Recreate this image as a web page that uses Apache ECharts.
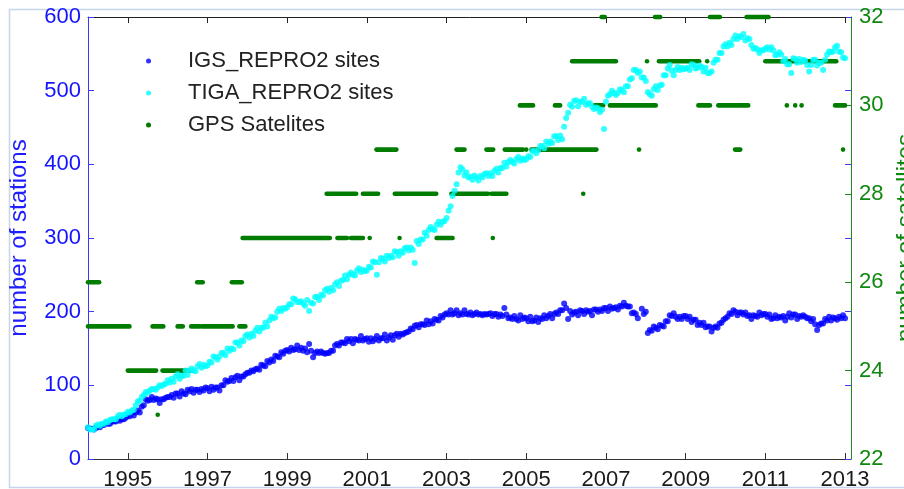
<!DOCTYPE html>
<html>
<head>
<meta charset="utf-8">
<script src="https://cdn.jsdelivr.net/npm/echarts@6/dist/echarts.min.js"></script>
<style>
  html, body { margin: 0; padding: 0; background: #ffffff; }
  #chart { width: 904px; height: 489px; }
</style>
</head>
<body>
<div id="chart"></div>
<script>
// Station counts sampled every 0.05 year starting at 1994.0 (one row per year)
const sampleStart = 1994.0;
const sampleStep = 0.05;

const igsSites = [
  42, 41, 41, 40, 42, 44, 43, 46, 46, 49, 48, 48, 51, 51, 51, 54, 52, 54, 54, 56,
  59, 58, 63, 59, 63, 66, 63, 71, 73, 81, 79, 80, 84, 80, 82, 81, 76, 81, 81, 83,
  84, 84, 87, 83, 89, 89, 85, 92, 89, 88, 94, 92, 95, 90, 94, 94, 91, 95, 93, 97,
  96, 92, 98, 94, 97, 97, 93, 100, 100, 107, 105, 106, 110, 106, 111, 113, 107, 112, 112, 115,
  117, 117, 120, 119, 122, 123, 121, 128, 127, 126, 133, 131, 135, 133, 140, 139, 138, 145, 143, 147,
  148, 146, 151, 148, 149, 154, 148, 151, 147, 150, 145, 156, 147, 138, 144, 146, 144, 146, 144, 143,
  144, 144, 147, 147, 154, 156, 154, 158, 158, 157, 163, 160, 163, 157, 163, 162, 161, 167, 161, 163,
  164, 159, 164, 160, 163, 167, 161, 164, 164, 169, 161, 165, 168, 162, 168, 170, 166, 170, 169, 171,
  172, 173, 177, 176, 181, 182, 179, 183, 183, 182, 188, 183, 187, 184, 190, 189, 188, 194, 192, 196,
  198, 196, 202, 196, 198, 202, 195, 198, 196, 202, 197, 196, 199, 195, 197, 199, 196, 197, 195, 197,
  196, 197, 198, 194, 197, 197, 193, 196, 194, 205, 196, 191, 192, 190, 194, 190, 188, 195, 190, 192,
  191, 187, 193, 187, 188, 192, 186, 191, 190, 195, 191, 194, 197, 191, 197, 199, 197, 202, 202, 211,
  205, 190, 201, 196, 199, 200, 195, 202, 201, 197, 202, 200, 201, 195, 203, 203, 200, 203, 201, 205,
  205, 201, 207, 204, 205, 206, 203, 208, 207, 212, 208, 207, 207, 198, 199, 197, 191, null, 204, 197,
  200, 171, 175, 174, 180, 178, 176, 182, 181, 180, 187, 187, 195, 194, 198, 193, 190, 193, 190, 194,
  194, 190, 193, 186, 189, 189, 182, 185, 182, 185, 179, 180, 180, 173, 178, 180, 178, 184, 185, 189,
  191, 193, 198, 197, 202, 200, 195, 199, 199, 196, 199, 194, 195, 190, 195, 194, 193, 199, 195, 197,
  197, 193, 196, 190, 191, 195, 191, 193, 192, 194, 188, 193, 198, 192, 196, 196, 190, 194, 193, 195,
  193, 191, 191, 187, 190, 183, 175, 182, 184, 184, 190, 188, 193, 188, 192, 191, 189, 193, 191, 195,
  191
];

const tigaSites = [
  43, 40, 40, 40, 45, 47, 45, 48, 48, 51, 50, 53, 54, 54, 54, 58, 60, 58, 60, 61,
  64, 63, 66, 67, 73, 78, 79, 84, 87, 91, 90, 93, 95, 95, 94, 97, 100, 99, 101, 102,
  107, 104, 109, 105, 112, 115, 109, 113, 113, 120, 114, 120, 123, 120, 119, 126, 129, 124, 128, 126,
  127, 132, 131, 139, 138, 135, 139, 144, 144, 141, 150, 147, 150, 149, 158, 158, 154, 161, 160, 167,
  169, 165, 170, 167, 174, 178, 173, 178, 178, 185, 180, 188, 193, 191, 192, 200, 204, 201, 205, 204,
  206, 210, 210, 218, 217, 213, 213, 214, 211, 208, 216, 201, 212, 211, 220, 220, 216, 223, 222, 229,
  231, 227, 232, 229, 237, 240, 235, 242, 243, 249, 244, 250, 253, 250, 249, 256, 259, 254, 257, 255,
  256, 261, 260, 268, 267, 250, 267, 273, 272, 268, 276, 273, 276, 274, 282, 281, 276, 282, 280, 286,
  287, 283, 287, 284, 266, 296, 292, 298, 298, 307, 303, 311, 315, 312, 311, 318, 322, 318, 322, 323,
  327, 337, 343, 357, 364, 373, 389, 396, 393, 385, 389, 382, 383, 379, 385, 382, 378, 384, 382, 387,
  388, 384, 388, 384, 391, 394, 389, 395, 395, 402, 397, 403, 406, 403, 401, 407, 410, 405, 408, 406,
  407, 411, 410, 418, 418, 415, 419, 425, 425, 422, 431, 428, 431, 429, 438, 438, 433, 439, 434, 451,
  463, 470, 481, 478, 486, 487, 479, 485, 485, 489, 481, 483, 483, 478, 475, 477, 476, 471, 474, 448,
  485, 493, 495, 500, 497, 494, 497, 502, 501, 498, 506, 506, 515, 517, 528, 528, 524, 526, 518, 518,
  513, 498, 495, 493, 502, 506, 501, 507, 508, 521, 521, 530, 535, 527, 521, 528, 532, 528, 531, 529,
  530, 531, 528, 536, 535, 530, 531, 534, 532, 526, 531, 524, 524, 526, 538, 542, 542, 551, 551, 560,
  563, 560, 565, 562, 570, 575, 570, 574, 573, 577, 568, 571, 570, 562, 557, 558, 556, 551, 555, 555,
  557, 559, 556, 559, 555, 548, 549, 552, 549, 540, 543, 536, 536, 524, 544, 543, 538, 543, 539, 542,
  541, 535, 526, 535, 542, 542, 534, 538, 538, 528, 542, 549, 553, 552, 553, 559, 561, 553, 552, 545,
  544
];

// GPS satellite counts: runs of days with the same count [fromYear, toYear, satellites]
const gpsRuns = [
  [1994.00, 1994.28, 26], [1996.74, 1996.88, 26], [1997.61, 1997.86, 26],
  [1994.00, 1995.04, 25], [1995.62, 1995.89, 25], [1996.25, 1996.38, 25],
  [1996.59, 1996.80, 25], [1996.86, 1997.63, 25], [1997.80, 1997.95, 25],
  [1995.00, 1995.71, 24], [1995.87, 1996.61, 24],
  [1995.75, 1995.75, 23],
  [1997.88, 2000.07, 27], [2000.26, 2000.50, 27], [2000.60, 2000.90, 27],
  [2001.07, 2001.07, 27], [2001.82, 2001.82, 27], [2002.75, 2003.15, 27],
  [2004.16, 2004.16, 27],
  [1999.99, 2000.32, 28], [2000.36, 2000.52, 28], [2000.56, 2000.73, 28],
  [2000.90, 2001.28, 28], [2001.70, 2002.74, 28], [2003.12, 2004.04, 28],
  [2004.13, 2004.50, 28], [2006.43, 2006.43, 28],
  [2001.24, 2001.74, 29], [2003.25, 2003.45, 29], [2004.00, 2004.17, 29],
  [2004.46, 2004.92, 29], [2005.00, 2005.00, 29], [2005.13, 2006.76, 29],
  [2007.83, 2007.83, 29], [2010.24, 2010.37, 29], [2012.95, 2012.95, 29],
  [2004.84, 2005.17, 30], [2005.72, 2005.85, 30], [2006.72, 2006.93, 30],
  [2007.10, 2008.25, 30], [2009.32, 2009.61, 30], [2009.82, 2010.57, 30],
  [2011.54, 2011.54, 30], [2011.75, 2011.75, 30], [2011.91, 2011.91, 30],
  [2012.75, 2013.00, 30],
  [2006.15, 2007.25, 31], [2008.03, 2008.03, 31], [2008.33, 2009.34, 31],
  [2009.54, 2009.54, 31], [2011.00, 2012.78, 31],
  [2006.89, 2006.97, 32], [2008.23, 2008.36, 32], [2009.61, 2009.86, 32],
  [2010.53, 2011.08, 32]
];

const yearTicks = [1995, 1997, 1999, 2001, 2003, 2005, 2007, 2009, 2011, 2013];
const seriesNames = ['IGS_REPRO2 sites', 'TIGA_REPRO2 sites', 'GPS Satelites'];

const FONT = "'Liberation Sans', Arial, Helvetica, sans-serif";
const BLUE = '#0000ff';
const CYAN = '#00ffff';
const GREEN = '#007c00';
const AXIS_BLUE = '#3a3aff';
const AXIS_GREEN = '#1e8a1e';
const AXIS_DARK = '#333333';

function toPoints(values) {
  const pts = [];
  values.forEach(function (v, i) {
    if (v !== null) pts.push([+(sampleStart + i * sampleStep).toFixed(2), v]);
  });
  return pts;
}

const chart = echarts.init(document.getElementById('chart'), null, { renderer: 'canvas' });

const option = {
  animation: false,
  backgroundColor: '#ffffff',
  textStyle: { fontFamily: FONT },
  grid: { left: 88, right: 53, top: 17, bottom: 30, containLabel: false, outerBoundsMode: 'none' },
  graphic: [{
    type: 'rect',
    silent: true,
    z: -10,
    shape: { x: 9.5, y: 9.5, width: 1000, height: 478 },
    style: { fill: null, stroke: '#c5d6ec', lineWidth: 1.5 }
  }],
  legend: {
    orient: 'vertical',
    left: 141,
    top: 40,
    icon: 'circle',
    itemWidth: 5,
    itemHeight: 5,
    itemGap: 0,
    textStyle: { fontFamily: FONT, fontSize: 22, color: '#222222', lineHeight: 32, padding: [0, 0, 0, 32] },
    data: seriesNames
  },
  xAxis: [
    {
      type: 'value', position: 'bottom', min: 1994, max: 2013.15,
      axisLine: { show: true, onZero: false, lineStyle: { color: AXIS_DARK, width: 1 } },
      axisTick: { show: true, inside: true, length: 6, customValues: yearTicks, lineStyle: { color: AXIS_DARK } },
      axisLabel: { customValues: yearTicks, color: '#1a1a1a', fontSize: 22, margin: 10, formatter: function (v) { return String(Math.round(v)); } },
      splitLine: { show: false }
    },
    {
      type: 'value', position: 'top', min: 1994, max: 2013.15,
      axisLine: { show: true, onZero: false, lineStyle: { color: '#222222', width: 1 } },
      axisTick: { show: true, inside: true, length: 6, customValues: yearTicks, lineStyle: { color: '#222222' } },
      axisLabel: { show: false },
      splitLine: { show: false }
    }
  ],
  yAxis: [
    {
      type: 'value', position: 'left', min: 0, max: 600, interval: 100,
      axisLine: { show: true, onZero: false, lineStyle: { color: AXIS_BLUE, width: 1 } },
      axisTick: { show: true, inside: true, length: 6, lineStyle: { color: AXIS_BLUE } },
      axisLabel: { color: '#1414ff', fontSize: 22, margin: 7 },
      splitLine: { show: false },
      name: 'number of stations', nameLocation: 'middle', nameRotate: 90, nameGap: 57,
      nameTextStyle: { color: '#1e1eff', fontSize: 24, fontFamily: FONT }
    },
    {
      type: 'value', position: 'right', min: 22, max: 32, interval: 2,
      axisLine: { show: true, onZero: false, lineStyle: { color: AXIS_GREEN, width: 1 } },
      axisTick: { show: true, inside: true, length: 6, lineStyle: { color: AXIS_GREEN } },
      axisLabel: { color: '#108810', fontSize: 22, margin: 8 },
      splitLine: { show: false },
      name: 'number of satellites', nameLocation: 'middle', nameRotate: 90, nameGap: 42,
      nameTextStyle: { color: '#108810', fontSize: 24, fontFamily: FONT }
    },
    {
      type: 'value', position: 'right', min: 0, max: 600, interval: 100,
      axisLine: { show: false },
      axisTick: { show: true, inside: true, length: 6, lineStyle: { color: AXIS_BLUE } },
      axisLabel: { show: false },
      splitLine: { show: false }
    }
  ],
  series: [
    {
      name: seriesNames[0], type: 'scatter', xAxisIndex: 0, yAxisIndex: 0,
      symbol: 'circle', symbolSize: 6,
      itemStyle: { color: BLUE },
      data: toPoints(igsSites)
    },
    {
      name: seriesNames[1], type: 'scatter', xAxisIndex: 0, yAxisIndex: 0,
      symbol: 'circle', symbolSize: 6,
      itemStyle: { color: CYAN },
      data: toPoints(tigaSites)
    },
    {
      name: seriesNames[2], type: 'custom', xAxisIndex: 0, yAxisIndex: 1,
      clip: false,
      itemStyle: { color: GREEN },
      encode: { x: [0, 1], y: 2 },
      data: gpsRuns,
      renderItem: function (params, api) {
        const a = api.coord([api.value(0), api.value(2)]);
        const b = api.coord([api.value(1), api.value(2)]);
        if (b[0] - a[0] < 0.5) {
          return { type: 'circle', shape: { cx: a[0], cy: a[1], r: 2.3 }, style: { fill: GREEN } };
        }
        return {
          type: 'line',
          shape: { x1: a[0], y1: a[1], x2: b[0], y2: b[1] },
          style: { stroke: GREEN, lineWidth: 4.6, lineCap: 'round' }
        };
      }
    }
  ]
};

chart.setOption(option);
</script>
</body>
</html>
